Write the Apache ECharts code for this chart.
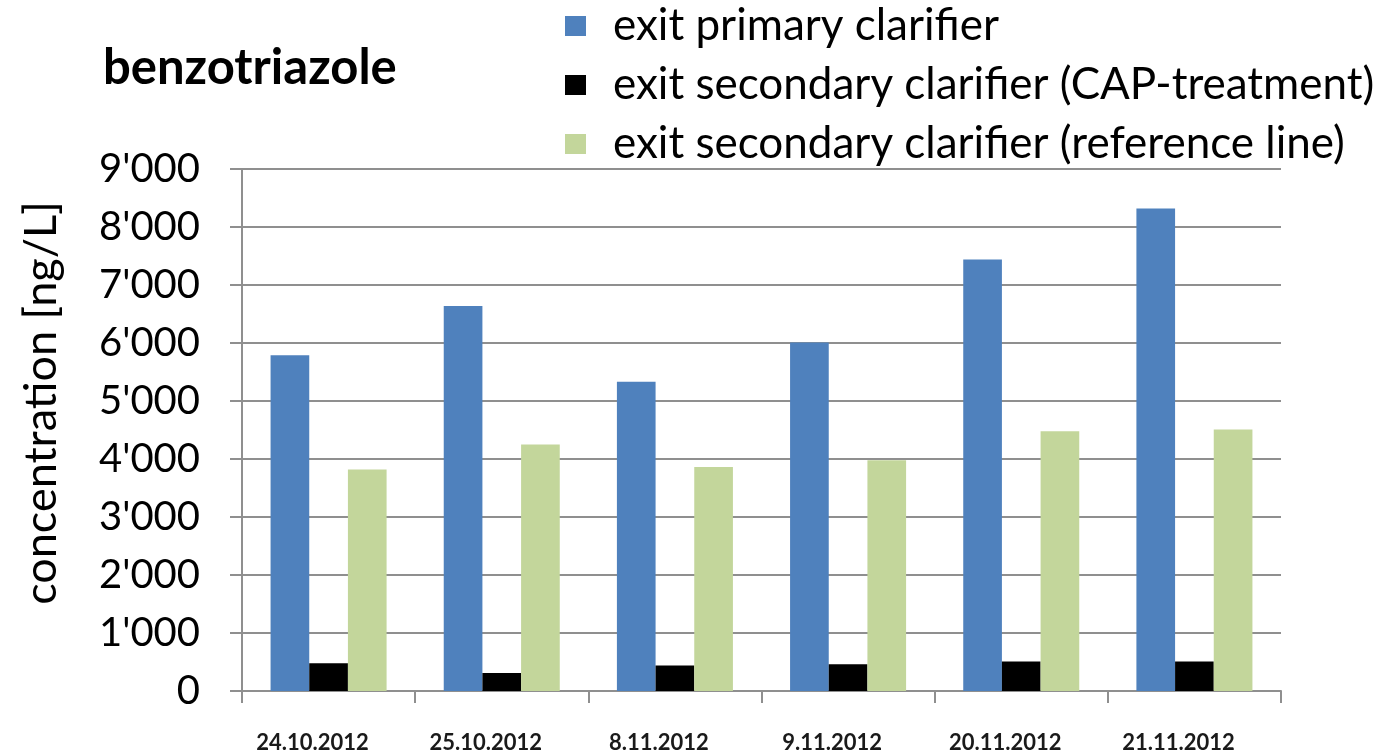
<!DOCTYPE html>
<html>
<head>
<meta charset="utf-8">
<script src="https://cdn.jsdelivr.net/npm/echarts@6/dist/echarts.min.js"></script>
<style>
html,body{margin:0;padding:0;background:#fff;}
#chart{width:1386px;height:754px;}
</style>
</head>
<body>
<div id="chart"></div>
<script>
const categories = ['24.10.2012', '25.10.2012', '8.11.2012', '9.11.2012', '20.11.2012', '21.11.2012'];
const seriesNames = ['exit primary clarifier', 'exit secondary clarifier (CAP-treatment)', 'exit secondary clarifier (reference line)'];
const primaryClarifier = [5790, 6640, 5330, 6010, 7440, 8320];
const capTreatment = [480, 310, 440, 460, 510, 510];
const referenceLine = [3820, 4250, 3860, 3980, 4480, 4510];
const yMin = 0, yMax = 9000, yStep = 1000;
const titleText = 'benzotriazole';
const yAxisTitle = 'concentration [ng/L]';

const FONT = 'Lato';
const GREY = '#8f8f8f';
const fmt = v => String(v).replace(/\B(?=(\d{3})+(?!\d))/g, "'");

const chart = echarts.init(document.getElementById('chart'), null, {renderer: 'canvas'});
chart.setOption({
  animation: false,
  backgroundColor: '#ffffff',
  title: {
    text: titleText,
    left: 103, top: 44, padding: 0,
    textStyle: {fontFamily: FONT, fontSize: 49, fontWeight: 'bold', color: '#000', lineHeight: 49}
  },
  legend: {
    orient: 'vertical',
    left: 565, top: 4, padding: 0,
    icon: 'rect', itemWidth: 21, itemHeight: 20, itemGap: 15,
    textStyle: {fontFamily: FONT, fontSize: 44, color: '#000', lineHeight: 40, padding: [0, 0, 0, 22]},
    data: seriesNames
  },
  graphic: [{
    type: 'text',
    x: 41, y: 403, rotation: Math.PI / 2,
    style: {text: yAxisTitle, fontFamily: FONT, fontSize: 45, fill: '#000', align: 'center', verticalAlign: 'middle'}
  }],
  grid: {left: 242, right: 105, top: 169, bottom: 63, containLabel: false},
  xAxis: {
    type: 'category',
    data: categories,
    boundaryGap: true,
    axisLine: {show: true, lineStyle: {color: GREY, width: 2}},
    axisTick: {show: true, length: 12, lineStyle: {color: GREY, width: 2}},
    axisLabel: {fontFamily: FONT, fontSize: 22, fontWeight: 'bold', color: '#1a1a1a', margin: 41, lineHeight: 22, padding: [0, 32, 0, 0], interval: 0},
    splitLine: {show: false}
  },
  yAxis: {
    type: 'value',
    min: yMin, max: yMax, interval: yStep,
    axisLine: {show: true, lineStyle: {color: GREY, width: 2}},
    axisTick: {show: true, length: 12, lineStyle: {color: GREY, width: 2}},
    axisLabel: {fontFamily: FONT, fontSize: 40, color: '#000', margin: 42, formatter: fmt},
    splitLine: {show: true, lineStyle: {color: GREY, width: 2}}
  },
  series: [
    {name: seriesNames[0], type: 'bar', data: primaryClarifier, itemStyle: {color: '#4f81bd'}, barGap: '0%', barCategoryGap: '33%'},
    {name: seriesNames[1], type: 'bar', data: capTreatment, itemStyle: {color: '#000000'}, barGap: '0%', barCategoryGap: '33%'},
    {name: seriesNames[2], type: 'bar', data: referenceLine, itemStyle: {color: '#c3d69b'}, barGap: '0%', barCategoryGap: '33%'}
  ]
});
</script>
</body>
</html>
